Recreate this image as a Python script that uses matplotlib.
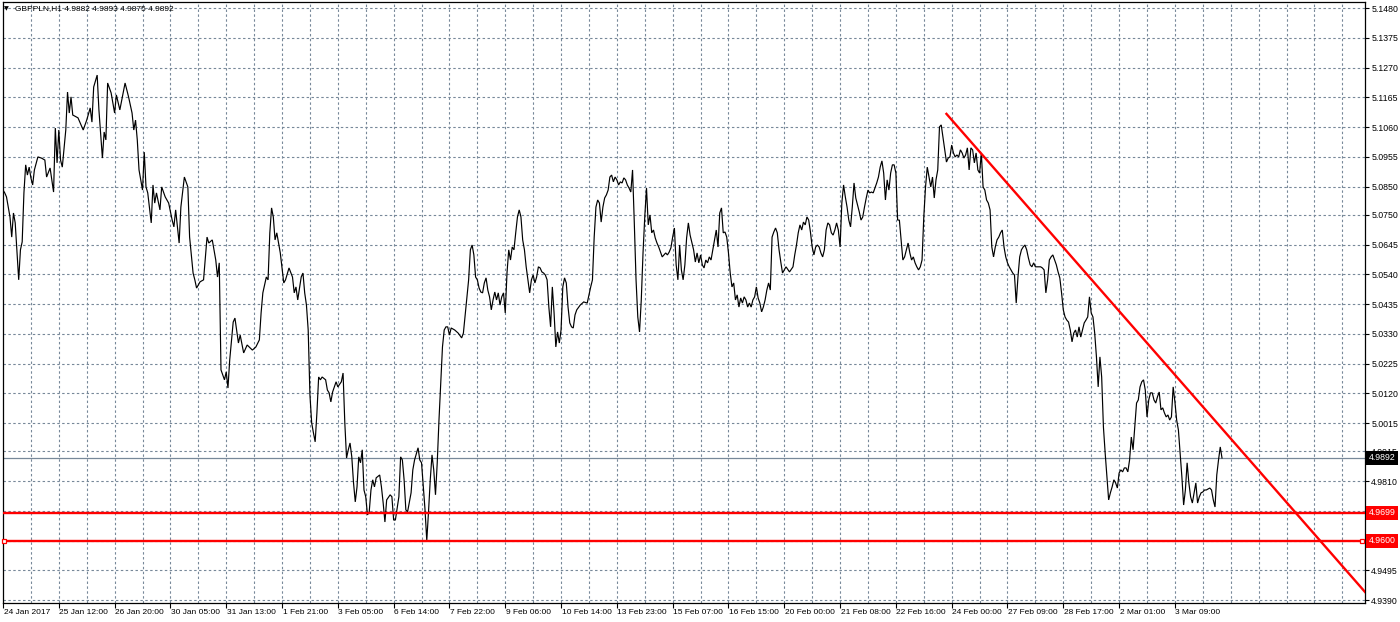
import matplotlib
matplotlib.use("Agg")
import matplotlib.pyplot as plt
import matplotlib.transforms as mtransforms
import numpy as np

# ---------------- data (H1 closes, bar index -> price) ----------------
bars = [0, 1, 2, 4, 5, 6, 7, 9, 10, 11, 12, 13, 14, 15, 16, 17, 18, 20, 22, 24, 25, 27, 29, 30, 31, 32, 33, 34, 36, 37, 38, 39, 40, 43, 46, 48, 50, 51, 52, 54, 55, 57, 58, 59, 60, 62, 64, 65, 67, 70, 72, 74, 75, 76, 77, 78, 80, 81, 82, 83, 85, 86, 87, 88, 90, 91, 93, 95, 97, 98, 99, 101, 102, 104, 106, 107, 109, 110, 111, 113, 115, 117, 118, 120, 122, 123, 124,
        125, 127, 128, 129, 130, 132, 133, 135, 136, 138, 140, 143, 145, 147, 148, 149, 151, 152, 153, 154, 155, 156, 157, 159, 161, 162, 164, 166, 167, 168, 169, 171, 172, 173, 174, 175, 176, 177, 178, 179, 180, 181, 182, 183, 185, 186, 187, 188, 189, 191, 192, 194, 195, 196, 197, 198, 199, 200, 201, 202, 203, 204, 205, 206, 207, 208, 209, 210, 211, 212, 213, 214, 216, 217, 218, 219, 220, 222, 223, 224, 225, 227, 228, 229, 230, 231, 232, 234, 235, 236, 238, 239, 240, 241, 242, 243, 244, 245, 246, 247, 248, 249, 250, 251, 252, 253, 254, 255, 256, 257, 259, 261, 263, 264, 266, 267, 268, 269, 270, 271, 272, 273, 274, 275, 276, 277, 278, 279, 280, 281, 282,
        283, 284, 285, 286, 287, 288, 289, 290, 291, 292, 293, 294, 295, 296, 297, 298, 299, 300, 301, 302, 303, 304, 305, 306, 307, 308, 309, 310, 311, 312, 313, 314, 315, 316, 317, 318, 319, 320, 321, 322, 323, 324, 325, 326, 327, 328, 329, 331, 333, 335, 337, 338, 339, 340, 341, 342, 343, 344, 345, 346, 347, 348, 349, 350, 351, 352, 353, 354, 355, 356, 357, 358, 359, 360, 361, 362, 363, 364, 365, 366, 367, 368, 369, 370, 371, 372, 373, 374, 375, 376, 377, 378, 379, 380, 381, 382, 383, 384, 385, 386, 387, 388, 389, 390, 391, 392, 393, 394, 396, 397, 398, 399, 400, 401, 402, 403, 404, 405, 406,
        407, 408, 409, 410, 411, 412, 413, 414, 415, 416, 417, 418, 419, 420, 421, 422, 423, 424, 425, 426, 427, 428, 429, 430, 431, 432, 433, 434, 435, 436, 437, 438, 439, 440, 441, 442, 443, 444, 445, 446, 447, 448, 449, 451, 453, 454, 455, 456, 457, 458, 459, 460, 461, 462, 463, 464, 465, 466, 467, 468, 469, 470, 471, 472, 473, 474, 475, 476, 477, 478, 479, 480, 481, 482, 483, 484, 485, 486, 487, 488, 489, 490, 491, 492, 493, 494, 495, 496, 497, 498, 499, 500, 501, 502, 503, 504, 505, 506, 507, 508, 509, 510, 511, 512, 513, 514, 515, 516, 517, 518, 519, 520, 521, 522, 523, 524, 525, 526, 527, 528, 529, 530, 531, 532, 533, 534, 535, 536,
        537, 538, 539, 540, 541, 542, 543, 544, 545, 546, 547, 548, 549, 550, 551, 552, 553, 554, 555, 556, 557, 558, 559, 560, 561, 562, 563, 564, 565, 566, 567, 568, 569, 570, 571, 572, 573, 574, 575, 576, 577, 578, 579, 580, 581, 582, 583, 584, 585, 586, 587, 588, 589, 590, 591, 592, 593, 595, 596, 597, 598, 599, 600, 601, 602, 603, 604, 605, 606, 607, 608, 609, 610, 611, 612, 613, 614, 615, 616, 617, 618, 619, 620, 621, 622, 623, 624, 625, 626, 627, 628, 629, 630, 631, 632, 633, 634, 635, 636, 637, 638, 639, 640, 641, 642, 643, 644, 645, 646, 647, 648, 649, 650, 651, 652, 653, 654, 655, 656, 657, 658, 659, 660, 661, 662, 663, 664, 665, 666, 667, 668, 669, 670, 671, 672, 673, 674, 675, 676, 677, 678, 679, 680, 681, 682, 683, 684, 685, 686, 687, 688, 689, 690, 692, 693, 694, 695, 696, 697, 698, 699]

prices = [5.0838, 5.0828, 5.0814, 5.0743, 5.0672, 5.0757, 5.0722, 5.0521, 5.0627, 5.0655, 5.0828, 5.0927, 5.0891, 5.0919, 5.0881, 5.0856, 5.0909, 5.0955, 5.0951, 5.0944, 5.0884, 5.0916, 5.0831, 5.1057, 5.0934, 5.1050, 5.0944, 5.0919, 5.1050, 5.1184, 5.1110, 5.1167, 5.1103, 5.1093, 5.1050, 5.1085, 5.1128, 5.1078, 5.1202, 5.1244, 5.1121, 5.0951, 5.1043, 5.1015, 5.1216, 5.1181, 5.1110, 5.1174, 5.1121, 5.1216, 5.1167, 5.1110, 5.1050, 5.1085, 5.1015, 5.0909, 5.0838, 5.0972, 5.0849, 5.0828, 5.0722, 5.0856, 5.0792, 5.0828, 5.0768, 5.0849, 5.0814, 5.0792, 5.0732, 5.0708, 5.0768, 5.0651, 5.0778, 5.0884, 5.0849, 5.0672, 5.0545, 5.0521, 5.0492, 5.0514, 5.0521, 5.0672, 5.0651, 5.0662, 5.0591, 5.0531, 5.0581,
          5.0203, 5.0168, 5.0196, 5.0139, 5.0238, 5.0372, 5.0386, 5.0298, 5.0326, 5.0263, 5.0291, 5.0273, 5.0284, 5.0309, 5.0404, 5.0475, 5.0531, 5.0521, 5.0687, 5.0775, 5.0743, 5.0662, 5.0687, 5.0616, 5.0510, 5.0521, 5.0563, 5.0531, 5.0475, 5.0496, 5.0450, 5.0531, 5.0545, 5.0475, 5.0432, 5.0344, 5.0115, 5.0016, 4.9981, 4.9949, 5.0051, 5.0178, 5.0168, 5.0178, 5.0168, 5.0132, 5.0122, 5.0090, 5.0125, 5.0161, 5.0143, 5.0161, 5.0192, 5.0016, 4.9892, 4.9921, 4.9945, 4.9896, 4.9804, 4.9737, 4.9790, 4.9896, 4.9875, 4.9921, 4.9779, 4.9755, 4.9691, 4.9702, 4.9779, 4.9815, 4.9790, 4.9822, 4.9832, 4.9790, 4.9733, 4.9666, 4.9744, 4.9762, 4.9755, 4.9673, 4.9673, 4.9755, 4.9896, 4.9885, 4.9815, 4.9709, 4.9702, 4.9769, 4.9850, 4.9885, 4.9928, 4.9885, 4.9875, 4.9790, 4.9709, 4.9600, 4.9702, 4.9815, 4.9903, 4.9850, 4.9762, 4.9875, 5.0026, 5.0157, 5.0284, 5.0344, 5.0355, 5.0355, 5.0326, 5.0351, 5.0344, 5.0333, 5.0316, 5.0333, 5.0461, 5.0521, 5.0627, 5.0644, 5.0609, 5.0531, 5.0521, 5.0492, 5.0478, 5.0475, 5.0510, 5.0528, 5.0485, 5.0461, 5.0415, 5.0450, 5.0478,
          5.0450, 5.0475, 5.0432, 5.0461, 5.0475, 5.0404, 5.0545, 5.0627, 5.0591, 5.0637, 5.0627, 5.0687, 5.0743, 5.0768, 5.0743, 5.0662, 5.0627, 5.0567, 5.0521, 5.0475, 5.0521, 5.0538, 5.0510, 5.0531, 5.0567, 5.0563, 5.0549, 5.0545, 5.0538, 5.0521, 5.0425, 5.0355, 5.0496, 5.0404, 5.0284, 5.0337, 5.0298, 5.0344, 5.0496, 5.0528, 5.0510, 5.0425, 5.0369, 5.0355, 5.0351, 5.0397, 5.0415, 5.0432, 5.0443, 5.0439, 5.0496, 5.0521, 5.0672, 5.0778, 5.0803, 5.0792, 5.0725, 5.0778, 5.0810, 5.0821, 5.0838, 5.0884, 5.0891, 5.0867, 5.0884, 5.0874, 5.0856, 5.0867, 5.0863, 5.0881, 5.0874, 5.0856, 5.0845, 5.0831, 5.0909, 5.0722, 5.0521, 5.0390, 5.0337, 5.0450, 5.0616, 5.0743, 5.0845, 5.0715, 5.0750, 5.0687, 5.0697, 5.0669, 5.0651, 5.0637, 5.0619, 5.0602, 5.0609, 5.0616, 5.0609, 5.0619, 5.0634, 5.0672, 5.0704, 5.0574, 5.0521, 5.0644, 5.0556, 5.0521, 5.0574, 5.0669, 5.0722, 5.0679, 5.0627, 5.0584, 5.0616, 5.0581, 5.0609, 5.0574, 5.0563, 5.0591, 5.0581, 5.0602, 5.0591,
          5.0627, 5.0662, 5.0697, 5.0637, 5.0757, 5.0775, 5.0687, 5.0690, 5.0672, 5.0616, 5.0545, 5.0496, 5.0510, 5.0450, 5.0468, 5.0425, 5.0457, 5.0439, 5.0461, 5.0450, 5.0425, 5.0439, 5.0425, 5.0450, 5.0461, 5.0496, 5.0457, 5.0439, 5.0408, 5.0425, 5.0450, 5.0485, 5.0510, 5.0485, 5.0672, 5.0690, 5.0704, 5.0687, 5.0627, 5.0584, 5.0545, 5.0556, 5.0567, 5.0549, 5.0567, 5.0609, 5.0644, 5.0687, 5.0715, 5.0697, 5.0725, 5.0715, 5.0743, 5.0732, 5.0690, 5.0637, 5.0609, 5.0637, 5.0644, 5.0637, 5.0616, 5.0602, 5.0627, 5.0697, 5.0722, 5.0715, 5.0687, 5.0679, 5.0697, 5.0722, 5.0697, 5.0637, 5.0792, 5.0856, 5.0814, 5.0778, 5.0732, 5.0708, 5.0778, 5.0863, 5.0810, 5.0785, 5.0761, 5.0732, 5.0743, 5.0778, 5.0810, 5.0838, 5.0828, 5.0831, 5.0828, 5.0845, 5.0863, 5.0884, 5.0919, 5.0941, 5.0898, 5.0803, 5.0874, 5.0838, 5.0898, 5.0927, 5.0927, 5.0898, 5.0732, 5.0732, 5.0662, 5.0591, 5.0602, 5.0627, 5.0651, 5.0616, 5.0591, 5.0602, 5.0581, 5.0567, 5.0556, 5.0567, 5.0591, 5.0743, 5.0849, 5.0919, 5.0884, 5.0849, 5.0884, 5.0810, 5.0874, 5.0909,
          5.1061, 5.1068, 5.1025, 5.0980, 5.0937, 5.0951, 5.0955, 5.0997, 5.0969, 5.0955, 5.0962, 5.0955, 5.0980, 5.0969, 5.0951, 5.0962, 5.0987, 5.0909, 5.0987, 5.0980, 5.0934, 5.0969, 5.0909, 5.0898, 5.0969, 5.0849, 5.0838, 5.0803, 5.0792, 5.0768, 5.0637, 5.0602, 5.0637, 5.0662, 5.0672, 5.0687, 5.0697, 5.0637, 5.0602, 5.0581, 5.0567, 5.0556, 5.0545, 5.0538, 5.0439, 5.0531, 5.0602, 5.0627, 5.0637, 5.0644, 5.0627, 5.0598, 5.0574, 5.0567, 5.0581, 5.0567, 5.0567, 5.0567, 5.0563, 5.0556, 5.0475, 5.0521, 5.0591, 5.0602, 5.0609, 5.0591, 5.0574, 5.0549, 5.0528, 5.0475, 5.0415, 5.0390, 5.0379, 5.0372, 5.0344, 5.0302, 5.0333, 5.0344, 5.0319, 5.0355, 5.0319, 5.0344, 5.0369, 5.0379, 5.0390, 5.0461, 5.0404, 5.0390, 5.0333, 5.0249, 5.0143, 5.0249, 5.0178, 5.0002, 4.9910, 4.9825, 4.9744, 4.9769, 4.9790, 4.9815, 4.9804, 4.9786, 4.9839, 4.9850, 4.9843, 4.9857, 4.9857, 4.9843, 4.9885, 4.9966, 4.9921, 5.0002, 5.0086, 5.0097, 5.0143, 5.0161, 5.0168, 5.0132, 5.0037, 5.0097, 5.0122, 5.0122, 5.0097, 5.0086, 5.0108, 5.0125, 5.0062, 5.0069, 5.0051, 5.0037, 5.0044, 5.0026, 5.0037, 5.0143, 5.0090, 5.0026, 4.9991, 4.9910, 4.9825, 4.9726, 4.9779, 4.9875, 4.9804, 4.9755, 4.9733, 4.9769, 4.9804, 4.9733, 4.9755, 4.9769, 4.9772, 4.9779, 4.9779, 4.9786, 4.9779, 4.9744, 4.9719, 4.9832, 4.9885, 4.9931, 4.9892]

x_tick_labels = ["24 Jan 2017", "25 Jan 12:00", "26 Jan 20:00", "30 Jan 05:00", "31 Jan 13:00",
                 "1 Feb 21:00", "3 Feb 05:00", "6 Feb 14:00", "7 Feb 22:00", "9 Feb 06:00",
                 "10 Feb 14:00", "13 Feb 23:00", "15 Feb 07:00", "16 Feb 15:00", "20 Feb 00:00",
                 "21 Feb 08:00", "22 Feb 16:00", "24 Feb 00:00", "27 Feb 09:00", "28 Feb 17:00",
                 "2 Mar 01:00", "3 Mar 09:00"]
y_tick_labels = ["5.1480", "5.1375", "5.1270", "5.1165", "5.1060", "5.0955", "5.0850", "5.0750",
                 "5.0645", "5.0540", "5.0435", "5.0330", "5.0225", "5.0120", "5.0015", "4.9915",
                 "4.9810", "4.9705", "4.9600", "4.9495", "4.9390"]

header_text = "GBPPLN,H1 4.9882 4.9893 4.9875 4.9892"
current_price = 4.9892
support_levels = [4.9699, 4.9600]
trend_bars = [541, 781]
trend_prices = [5.1107, 4.9419]
bars_per_label = 32
bars_per_grid = 16
x_range = (0, 781)
y_range = (4.9380, 5.1502)

# ---------------- figure ----------------
W, H = 1400, 622
fig = plt.figure(figsize=(W / 100, H / 100), dpi=100)
fig.patch.set_facecolor("white")
plt.rcParams["font.family"] = ["Liberation Sans", "DejaVu Sans"]

ax = fig.add_axes([3 / W, 1 - 603 / H, (1365 - 3) / W, (603 - 2) / H])
ax.set_xlim(*x_range)
ax.set_ylim(*y_range)
ax.set_facecolor("white")

grid_color = "#778899"
grid_kw = dict(color=grid_color, lw=0.8, ls=(0, (2.2, 2.2)), zorder=1)

# grid
for xv in range(bars_per_grid, x_range[1], bars_per_grid):
    ax.axvline(xv, **grid_kw)
ytv = [float(s) for s in y_tick_labels]
for yv in ytv:
    ax.axhline(yv, **grid_kw)

# current price line
ax.axhline(current_price, color=grid_color, lw=0.9, zorder=2)

# price series
ax.plot(bars, prices, color="black", lw=0.85, zorder=4, solid_joinstyle="miter")

# support lines and trendline
for lv in support_levels:
    ax.axhline(lv, color="#ff0000", lw=1.7, zorder=5)
ax.plot([x_range[0] + 0.6, x_range[1] - 1.7], [support_levels[1]] * 2, "s", ms=3.2,
        mfc="white", mec="#ff0000", mew=0.9, zorder=6, clip_on=False)
ax.plot(trend_bars, trend_prices, color="#ff0000", lw=1.7, zorder=5)

# axes styling
for s in ax.spines.values():
    s.set_color("black")
    s.set_linewidth(0.9)

ax.yaxis.tick_right()
ax.set_yticks(ytv)
ax.set_yticklabels(y_tick_labels)
ax.tick_params(axis="y", direction="out", length=3, width=0.8, pad=1.5,
               labelsize=6.3, colors="black")

xt = list(range(0, bars_per_label * len(x_tick_labels), bars_per_label))
ax.set_xticks(xt)
ax.set_xticklabels(x_tick_labels)
ax.tick_params(axis="x", direction="out", length=3.5, width=0.8, pad=0.8,
               labelsize=6.0, colors="black")
offset = mtransforms.ScaledTranslation(0.5 / 100, 0, fig.dpi_scale_trans)
for lab in ax.get_xticklabels():
    lab.set_horizontalalignment("left")
    lab.set_transform(lab.get_transform() + offset)

# price tags on right axis
btrans = mtransforms.blended_transform_factory(ax.transAxes, ax.transData)
tags = [(current_price, "4.9892", "black")] + [
    (support_levels[0], "4.9699", "#ff0000"), (support_levels[1], "4.9600", "#ff0000")]
for val, txt, col in tags:
    ax.text(1.0 + 3.5 / (1365 - 3), val, txt, transform=btrans, ha="left", va="center",
            fontsize=6.3, color="white", zorder=10, clip_on=False,
            bbox=dict(boxstyle="square,pad=0.28", fc=col, ec="none"))

# header
fig.text(4 / W, 1 - 8.5 / H, "\u25BC", fontsize=4.5, color="black", va="center", ha="left",
         family="DejaVu Sans")
fig.text(15 / W, 1 - 8.5 / H, header_text, fontsize=6.0, color="black", va="center", ha="left")

fig.savefig("out.png", dpi=100, facecolor="white")
